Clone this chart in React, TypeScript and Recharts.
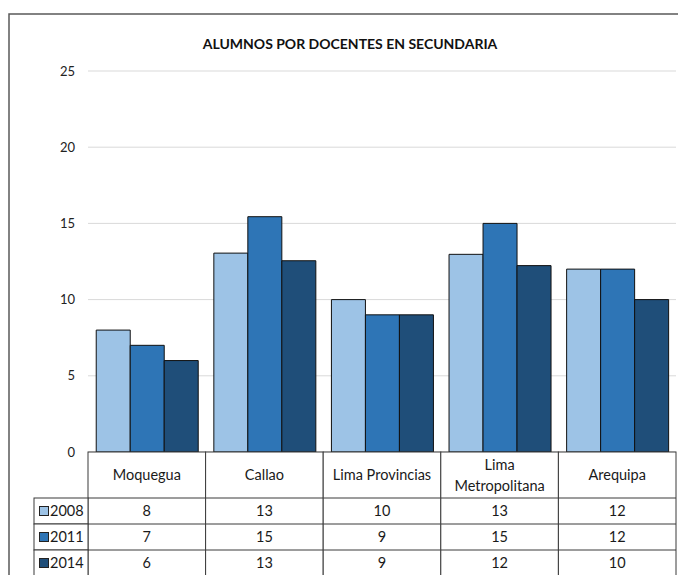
import { BarChart, Bar, XAxis, YAxis, CartesianGrid } from 'recharts';

const categories = ['Moquegua', 'Callao', 'Lima Provincias', 'Lima Metropolitana', 'Arequipa'];
const years = ['2008', '2011', '2014'];
const values2008 = [8, 13.05, 10, 12.97, 12];
const values2011 = [7, 15.44, 9, 15, 12];
const values2014 = [6, 12.55, 9, 12.23, 10];
const yTicks = [0, 5, 10, 15, 20, 25];

const colors = ['#9DC3E6', '#2E75B6', '#1F4E79'];
const series = [values2008, values2011, values2014];

const data = categories.map((name, i) => ({
    name,
    y2008: values2008[i],
    y2011: values2011[i],
    y2014: values2014[i],
}));

const W = 678;
const H = 575;
const LEFT = 88;
const RIGHT = 2;
const TOP = 71;
const AXIS_H = 123;
const HEADER_H = 46;
const ROW_H = 26;
const FONT = 'Lato, "Open Sans", sans-serif';
const LINE = '#3a3a3a';
const FS = 14.5;

// one column of the data table per category tick
function TableTick(props: any) {
    const { x, index, payload } = props;
    const bw = (W - LEFT - RIGHT) / categories.length;
    const top = H - AXIS_H;
    const left = x - bw / 2;
    const name: string = payload.value;
    const lines = name.length > 16 ? name.split(' ') : [name];
    const tableBottom = top + HEADER_H + ROW_H * years.length + 4;

    return (
        <g>
            <rect x={left} y={top} width={bw} height={tableBottom - top} fill="#fff" stroke={LINE} strokeWidth={1} />
            {lines.map((l, k) => (
                <text key={k} x={x} y={top + HEADER_H / 2 + 5 + (k - (lines.length - 1) / 2) * 21}
                    textAnchor="middle" fontSize={FS} fill="#1a1a1a" fontFamily={FONT}>{l}</text>
            ))}
            {years.map((yr, r) => {
                const rowTop = top + HEADER_H + r * ROW_H;
                return (
                    <g key={yr}>
                        <line x1={left} x2={left + bw} y1={rowTop} y2={rowTop} stroke={LINE} strokeWidth={1} />
                        <text x={x} y={rowTop + ROW_H / 2 + 5} textAnchor="middle" fontSize={FS} fill="#1a1a1a" fontFamily={FONT}>
                            {Math.round(series[r][index])}
                        </text>
                    </g>
                );
            })}
            {index === 0 && (
                <g>
                    {years.map((yr, r) => {
                        const rowTop = top + HEADER_H + r * ROW_H;
                        return (
                            <g key={yr}>
                                <rect x={34} y={rowTop} width={left - 34} height={ROW_H} fill="#fff" stroke={LINE} strokeWidth={1} />
                                <rect x={39.5} y={rowTop + 8.5} width={9} height={9} fill={colors[r]} stroke="#222" strokeWidth={1} />
                                <text x={50} y={rowTop + ROW_H / 2 + 5} fontSize={FS} fill="#1a1a1a" fontFamily={FONT}>{yr}</text>
                            </g>
                        );
                    })}
                </g>
            )}
        </g>
    );
}

export default function App() {
    return (
        <div style={{ position: 'absolute', left: 0, top: 0, width: W, height: H, background: '#fff' }}>
            <BarChart width={W} height={H} data={data} barGap={0} barCategoryGap="7%"
                margin={{ top: TOP, right: RIGHT, left: 0, bottom: 0 }}>
                <CartesianGrid horizontal={true} vertical={false} stroke="#d9d9d9" />
                <XAxis dataKey="name" height={AXIS_H} axisLine={false} tickLine={false} tickSize={0} tickMargin={0}
                    interval={0} tick={<TableTick />} />
                <YAxis width={LEFT} domain={[0, 25]} ticks={yTicks} axisLine={false} tickLine={false} tickSize={0}
                    tickMargin={13} tick={{ fontSize: 13, fill: '#222', fontFamily: FONT }} />
                {years.map((yr, i) => (
                    <Bar key={yr} dataKey={'y' + yr} fill={colors[i]} stroke="#111" strokeWidth={1} isAnimationActive={false} />
                ))}
                <text x={350} y={49} textAnchor="middle" fontSize={14} fontWeight="bold" fill="#111" fontFamily={FONT}>
                    ALUMNOS POR DOCENTES EN SECUNDARIA
                </text>
                <path d={`M9,${H} L9,14 L${W},14`} fill="none" stroke="#595959" strokeWidth={1.5} />
            </BarChart>
        </div>
    );
}
